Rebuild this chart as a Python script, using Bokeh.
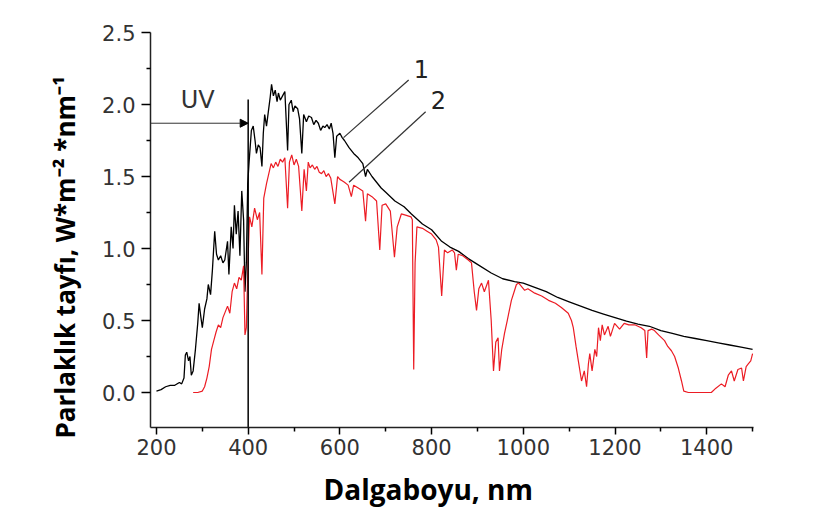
from bokeh.plotting import figure
from bokeh.models import Range1d, FixedTicker, NumeralTickFormatter, Arrow, NormalHead, Label, Title
from bokeh.embed import file_html
from bokeh.resources import INLINE

# Curve 1 (black): wavelength (nm) and spectral irradiance
wl_black = [200, 210, 220, 230, 240, 250, 255, 260, 263, 266, 270, 273, 276, 280, 285, 290, 293, 297,
            300, 305, 310, 313, 318, 322, 327, 331, 335, 340, 345, 349, 355, 358, 363, 367, 370, 374,
            378, 382, 386, 390, 393, 396, 399, 402, 407, 411, 415, 418, 422, 426, 430, 433, 436, 440,
            444, 448, 451, 455, 459, 463, 466, 470, 475, 480, 486, 489, 494, 498, 502, 508, 512, 517,
            521, 527, 532, 538, 543, 548, 553, 558, 563, 567, 572, 577, 581, 585, 589, 593, 600, 605,
            610, 620, 630, 640, 650, 656, 660, 670, 680, 690, 700, 720, 740, 756, 780, 800, 822, 840,
            859, 880, 900, 930, 955, 981, 1000, 1025, 1050, 1075, 1100, 1125, 1150, 1175, 1200, 1225,
            1250, 1275, 1300, 1325, 1350, 1375, 1400, 1425, 1450, 1475, 1500]
irr_black = [0.01, 0.02, 0.04, 0.05, 0.05, 0.07, 0.06, 0.10, 0.26, 0.28, 0.22, 0.25, 0.12, 0.15, 0.30, 0.48, 0.62, 0.52,
             0.45, 0.58, 0.65, 0.75, 0.68, 0.85, 1.12, 0.96, 0.92, 0.95, 0.90, 0.92, 1.05, 0.82, 1.15, 1.00, 1.30, 1.10,
             1.26, 0.95, 1.40, 1.20, 0.70, 0.90, 1.45, 1.60, 1.82, 1.85, 1.75, 1.66, 1.72, 1.70, 1.57, 1.80, 1.93, 1.85,
             1.95, 2.05, 2.14, 2.06, 2.10, 2.02, 2.08, 2.03, 2.06, 2.09, 1.68, 2.00, 2.03, 1.95, 1.99, 1.97, 1.90, 1.66,
             1.93, 1.88, 1.92, 1.91, 1.86, 1.89, 1.87, 1.82, 1.85, 1.84, 1.86, 1.83, 1.87, 1.80, 1.63, 1.78, 1.80, 1.77,
             1.75, 1.70, 1.66, 1.63, 1.59, 1.50, 1.55, 1.50, 1.46, 1.42, 1.39, 1.33, 1.29, 1.24, 1.17, 1.13, 1.05, 1.01,
             0.98, 0.93, 0.89, 0.83, 0.79, 0.77, 0.76, 0.73, 0.70, 0.66, 0.63, 0.60, 0.57, 0.545, 0.52, 0.495,
             0.475, 0.46, 0.43, 0.41, 0.39, 0.375, 0.36, 0.345, 0.33, 0.315, 0.30]

# Curve 2 (red)
wl_red = [280, 290, 300, 305, 310, 315, 320, 325, 330, 335, 340, 345, 350, 355, 360, 365, 370, 375, 380, 385,
          390, 393, 396, 400, 403, 408, 414, 420, 425, 430, 434, 440, 445, 450, 455, 460, 465, 470, 475, 480,
          486, 490, 495, 500, 505, 510, 517, 522, 527, 531, 535, 540, 545, 550, 555, 560, 565, 570, 575, 580,
          589, 595, 600, 605, 610, 618, 625, 630, 640, 650, 656, 660, 670, 680, 687, 692, 700, 710, 719, 725,
          734, 745, 755, 758, 761, 764, 768, 780, 790, 800, 810, 815, 822, 828, 835, 845, 850, 854, 858, 868,
          880, 887, 893, 898, 903, 909, 915, 924, 930, 935, 940, 945, 948, 953, 959, 965, 974, 980, 985, 990,
          1003, 1010, 1025, 1040, 1055, 1070, 1083, 1098, 1105, 1109, 1115, 1120, 1127, 1133, 1138, 1142, 1145, 1150,
          1156, 1160, 1164, 1168, 1172, 1177, 1185, 1190, 1199, 1210, 1220, 1230, 1243, 1257, 1265, 1269, 1272, 1280,
          1286, 1295, 1308, 1315, 1323, 1330, 1338, 1345, 1350, 1360, 1380, 1410, 1420, 1432, 1440, 1447, 1454, 1460,
          1468, 1476, 1480, 1486, 1491, 1496, 1500]
irr_red = [0.0, 0.0, 0.01, 0.04, 0.10, 0.18, 0.30, 0.36, 0.42, 0.47, 0.45, 0.52, 0.56, 0.60, 0.55, 0.70, 0.76, 0.72, 0.80, 0.78,
           0.88, 0.40, 0.45, 0.95, 1.22, 1.15, 1.28, 1.20, 1.25, 0.82, 1.35, 1.45, 1.52, 1.59, 1.56, 1.60, 1.57, 1.62, 1.60, 1.63,
           1.28, 1.60, 1.65, 1.58, 1.62, 1.57, 1.26, 1.55, 1.40, 1.60, 1.56, 1.58, 1.55, 1.57, 1.53, 1.52, 1.54, 1.50, 1.52, 1.49,
           1.31, 1.50, 1.48, 1.47, 1.46, 1.44, 1.36, 1.44, 1.42, 1.40, 1.19, 1.38, 1.36, 1.33, 0.99, 1.30, 1.31, 1.26, 0.94, 1.15,
           1.24, 1.23, 1.22, 1.20, 0.16, 0.90, 1.15, 1.14, 1.12, 1.10, 1.06, 1.01, 0.67, 0.99, 0.97, 0.99, 0.97, 0.85, 0.96, 0.95,
           0.92, 0.90, 0.70, 0.57, 0.72, 0.76, 0.70, 0.78, 0.50, 0.15, 0.35, 0.38, 0.15, 0.30, 0.41, 0.50, 0.64, 0.70, 0.75, 0.76,
           0.71, 0.72, 0.69, 0.67, 0.64, 0.62, 0.59, 0.55, 0.50, 0.45, 0.32, 0.22, 0.08, 0.15, 0.04, 0.20, 0.27, 0.15,
           0.30, 0.25, 0.45, 0.36, 0.47, 0.40, 0.46, 0.39, 0.48, 0.44, 0.48, 0.47, 0.47, 0.45, 0.43, 0.24, 0.43, 0.44,
           0.43, 0.40, 0.36, 0.32, 0.29, 0.25, 0.17, 0.08, 0.01, 0.0, 0.0, 0.0, 0.03, 0.06, 0.04, 0.12, 0.15, 0.08,
           0.16, 0.17, 0.08, 0.18, 0.20, 0.22, 0.27]

x_major = [200, 400, 600, 800, 1000, 1200, 1400]
x_minor = [300, 500, 700, 900, 1100, 1300, 1500]
y_major = [0.0, 0.5, 1.0, 1.5, 2.0, 2.5]
y_minor = [0.25, 0.75, 1.25, 1.75, 2.25]

x_title = "Dalgaboyu, nm"
y_title = "Parlaklık tayfı, W*m⁻² *nm⁻¹"

TICK_FONT = "DejaVu Sans"
TITLE_FONT = "Open Sans"

p = figure(width=813, height=529, output_backend="svg", toolbar_location=None,
           x_range=Range1d(187, 1502), y_range=Range1d(-0.243, 2.5),
           min_border_left=150, min_border_right=60, min_border_top=32, min_border_bottom=102)
p.outline_line_color = None
p.xgrid.visible = False
p.ygrid.visible = False
p.background_fill_color = "white"
p.border_fill_color = "white"

p.line(wl_black, irr_black, line_color="black", line_width=1.3)
p.line(wl_red, irr_red, line_color="#ec1c24", line_width=1.2)

# UV boundary and arrow
p.segment(x0=[400], y0=[-0.243], x1=[400], y1=[2.035], line_color="black", line_width=1.5)
p.add_layout(Arrow(end=NormalHead(size=8, fill_color="black", line_color="black"),
                   x_start=187, y_start=1.87, x_end=400, y_end=1.87, line_color="#333333", line_width=1))
p.add_layout(Label(x=290, y=2.03, text="UV", text_font=TICK_FONT, text_font_size="24px",
                   text_color="#333333", text_align="center", text_baseline="middle"))

# leader lines and curve labels
p.segment(x0=[608, 620], y0=[1.77, 1.46], x1=[750, 787], y1=[2.17, 1.95], line_color="#333333", line_width=1.2)
p.add_layout(Label(x=778, y=2.25, text="1", text_font=TICK_FONT, text_font_size="24px",
                   text_color="#222222", text_align="center", text_baseline="middle"))
p.add_layout(Label(x=815, y=2.03, text="2", text_font=TICK_FONT, text_font_size="24px",
                   text_color="#222222", text_align="center", text_baseline="middle"))

# axes
xa = p.xaxis[0]
xa.ticker = FixedTicker(ticks=x_major, minor_ticks=x_minor)
xa.major_label_text_font = TICK_FONT
xa.major_label_text_font_size = "21px"
xa.major_label_text_color = "#333333"
xa.major_tick_out = 7
xa.major_tick_in = 0
xa.minor_tick_out = 4
xa.minor_tick_in = 0
xa.major_label_standoff = 4
xa.axis_line_width = 1.5
xa.axis_line_color = "#222222"
xa.major_tick_line_width = 1.5
xa.minor_tick_line_width = 1.5

ya = p.yaxis[0]
ya.ticker = FixedTicker(ticks=y_major, minor_ticks=y_minor)
ya.formatter = NumeralTickFormatter(format="0.0")
ya.major_label_text_font = TICK_FONT
ya.major_label_text_font_size = "21px"
ya.major_label_text_color = "#333333"
ya.major_tick_out = 9
ya.major_tick_in = 0
ya.minor_tick_out = 4
ya.minor_tick_in = 0
ya.major_label_standoff = 6
ya.axis_line_width = 1.5
ya.axis_line_color = "#222222"
ya.major_tick_line_width = 1.5
ya.minor_tick_line_width = 1.5

# axis titles as side titles (placed like in the reference)
p.add_layout(Title(text=y_title, align="left", offset=-11, standoff=33, text_font=TITLE_FONT,
                   text_font_style="bold", text_font_size="26px", text_color="black"), "left")
p.add_layout(Title(text=x_title, align="left", offset=173, standoff=20, text_font=TITLE_FONT,
                   text_font_style="bold", text_font_size="28px", text_color="black"), "below")

open("out.html", "w").write(file_html(p, INLINE))
